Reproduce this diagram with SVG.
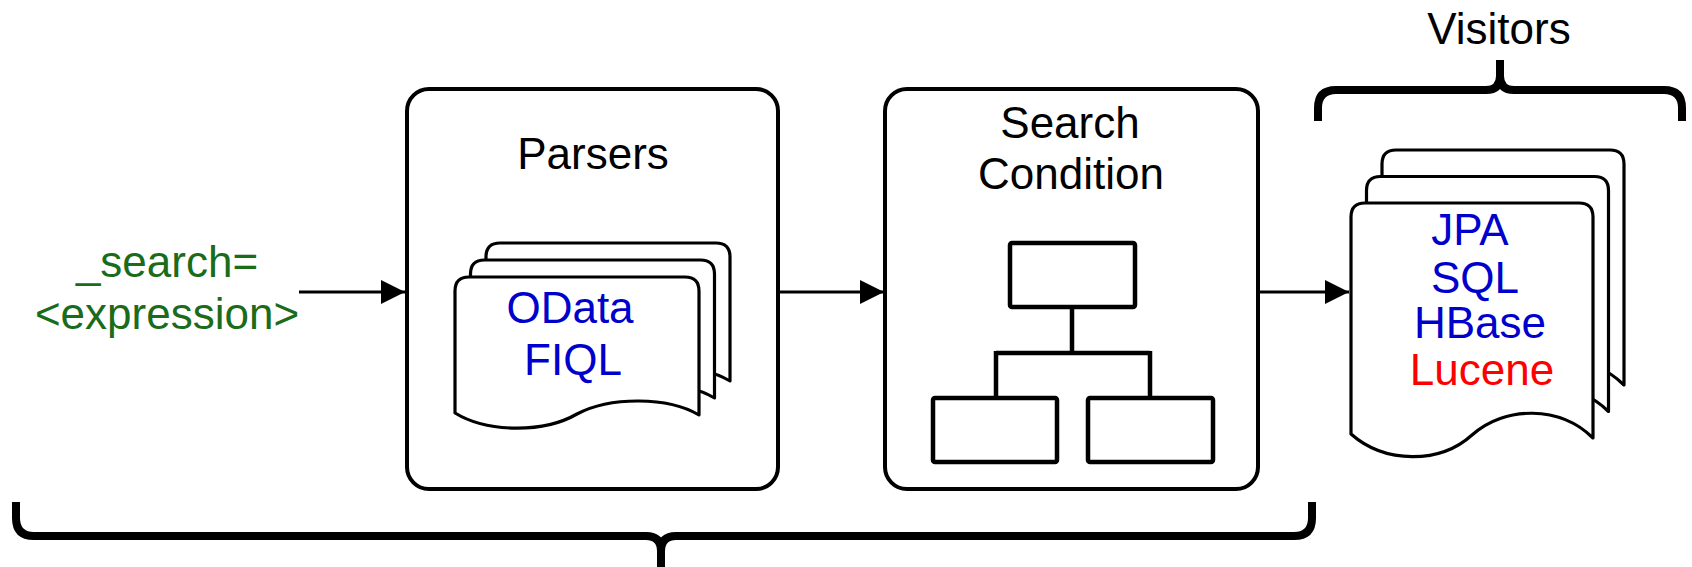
<svg xmlns="http://www.w3.org/2000/svg" width="1692" height="567" viewBox="0 0 1692 567">
<style>
text{font-family:"Liberation Sans",Arial,sans-serif;font-size:44px;text-anchor:middle}
.box{fill:#fff;stroke:#000;stroke-width:4}
.doc{fill:#fff;stroke:#000;stroke-width:3.2;stroke-linejoin:round}
.tree{fill:#fff;stroke:#000;stroke-width:4.5}
.conn{fill:none;stroke:#000;stroke-width:3}
.brace{fill:none;stroke:#000;stroke-width:8}
.blue{fill:#0000cc}
.green{fill:#1a6b1a}
.red{fill:#ff0000}
</style>
<defs>
<marker id="arr" markerUnits="userSpaceOnUse" markerWidth="26" markerHeight="26" refX="24" refY="12" orient="auto">
<path d="M0,0 L24,12 L0,24 Z" fill="#000"/>
</marker>
<path id="pdoc" d="M455,413 L455,291 Q455,277 469,277 L685,277 Q699,277 699,291 L699,415 C668,396.5 610,396.5 577,414 C544,433 488,433 455,413 Z"/>
<path id="vdoc" d="M1351,434 L1351,217 Q1351,203 1365,203 L1579,203 Q1593,203 1593,217 L1593,438 C1560,405.5 1505,405.5 1472,435 C1440,464 1385,464 1351,434 Z"/>
</defs>
<g id="input">
<text class="green" x="167" y="277">_search=</text>
<text class="green" x="167" y="329">&lt;expression&gt;</text>
</g>
<g id="parsers">
<rect class="box" x="407" y="89" width="371" height="400" rx="22"/>
<text x="593" y="169">Parsers</text>
<use href="#pdoc" class="doc" transform="translate(31,-34)"/>
<use href="#pdoc" class="doc" transform="translate(15.5,-17)"/>
<use href="#pdoc" class="doc"/>
<text class="blue" x="570" y="323">OData</text>
<text class="blue" x="573" y="375">FIQL</text>
</g>
<g id="search-condition">
<rect class="box" x="885" y="89" width="373" height="400" rx="22"/>
<text x="1070" y="138">Search</text>
<text x="1071" y="189">Condition</text>
<rect class="tree" x="1010" y="243" width="125" height="64" rx="2"/>
<path class="tree" fill="none" d="M1072,307 V353 M996,353 H1150 M996,351 V398 M1150,351 V398"/>
<rect class="tree" x="933" y="398" width="124" height="64" rx="2"/>
<rect class="tree" x="1088" y="398" width="125" height="64" rx="2"/>
</g>
<g id="visitors">
<text x="1499" y="44">Visitors</text>
<path class="brace" d="M1318,121 V108 Q1318,90 1336,90 H1486 Q1500,90 1500,76 M1500,76 Q1500,90 1514,90 H1664 Q1682,90 1682,108 V121 M1500,60 V78"/>
<use href="#vdoc" class="doc" transform="translate(31,-53)"/>
<use href="#vdoc" class="doc" transform="translate(15.5,-26.5)"/>
<use href="#vdoc" class="doc"/>
<text class="blue" x="1470" y="245">JPA</text>
<text class="blue" x="1475" y="293">SQL</text>
<text class="blue" x="1480" y="338">HBase</text>
<text class="red" x="1482" y="385">Lucene</text>
</g>
<g id="overall-brace">
<path class="brace" d="M16,502 V518 Q16,536 34,536 H646 Q661,536 661,551 M661,551 Q661,536 676,536 H1294 Q1312,536 1312,518 V502 M661,548 V567"/>
</g>
<g id="connectors">
<path class="conn" d="M299,292 H405" marker-end="url(#arr)"/>
<path class="conn" d="M778,292 H884" marker-end="url(#arr)"/>
<path class="conn" d="M1258,292 H1349" marker-end="url(#arr)"/>
</g>
</svg>
